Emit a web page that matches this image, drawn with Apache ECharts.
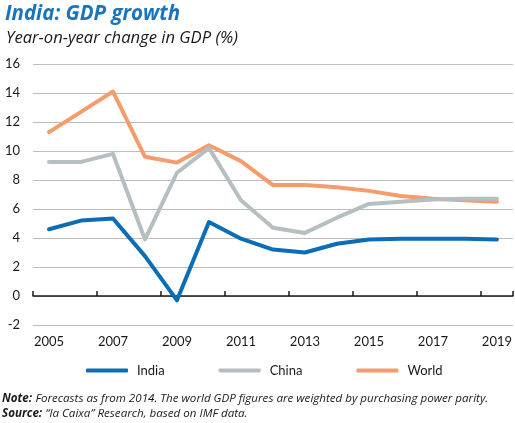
<!DOCTYPE html>
<html>
<head>
<meta charset="utf-8">
<script src="https://cdn.jsdelivr.net/npm/echarts@6/dist/echarts.min.js"></script>
<style>html,body{margin:0;padding:0;background:#fff}#c{width:515px;height:423px}</style>
</head>
<body>
<div id="c"></div>
<script>
var years = ['2005','2006','2007','2008','2009','2010','2011','2012','2013','2014','2015','2016','2017','2018','2019'];
var india = [4.6, 5.2, 5.35, 2.75, -0.3, 5.1, 3.95, 3.2, 3.0, 3.6, 3.9, 3.95, 3.95, 3.95, 3.9];
var china = [9.25, 9.25, 9.8, 3.9, 8.5, 10.2, 6.6, 4.7, 4.35, 5.4, 6.35, 6.5, 6.65, 6.7, 6.7];
var world = [11.3, 12.7, 14.1, 9.6, 9.2, 10.4, 9.3, 7.65, 7.65, 7.5, 7.25, 6.9, 6.7, 6.6, 6.5];
var yTicks = { min: -2, max: 16, interval: 2 };
var seriesNames = ['India', 'China', 'World'];
var colors = ['#0b6db6', '#b5bfc1', '#f49c6b'];

var FONT = 'Lato';
var TFONT = 'Open Sans';
var chart = echarts.init(document.getElementById('c'), null, { renderer: 'canvas' });
chart.setOption({
  animation: false,
  textStyle: { fontFamily: FONT },
  title: [
    { text: 'India: GDP growth', left: 0, top: -1,
      textStyle: { fontFamily: TFONT, fontSize: 20.5, fontWeight: 'bold', fontStyle: 'italic', color: '#1b75bc' } },
    { text: 'Year-on-year change in GDP (%)', left: 1, top: 25,
      textStyle: { fontFamily: TFONT, fontSize: 16.6, fontWeight: 'normal', fontStyle: 'italic', color: '#1a1a1a' } }
  ],
  graphic: [
    { type: 'text', left: 2, top: 393,
      style: { rich: {
        b: { fontFamily: TFONT, fontSize: 11.6, fontWeight: 'bold', fontStyle: 'italic', fill: '#1a1a1a' },
        n: { fontFamily: TFONT, fontSize: 11.6, fontStyle: 'italic', fill: '#1a1a1a' } },
        text: '{b|Note:} {n|Forecasts as from 2014. The world GDP figures are weighted by purchasing power parity.}' } },
    { type: 'text', left: 2, top: 408,
      style: { rich: {
        b: { fontFamily: TFONT, fontSize: 11.6, fontWeight: 'bold', fontStyle: 'italic', fill: '#1a1a1a' },
        n: { fontFamily: TFONT, fontSize: 11.6, fontStyle: 'italic', fill: '#1a1a1a' } },
        text: '{b|Source:} {n|\u201cla Caixa\u201d Research, based on IMF data.}' } }
  ],
  legend: {
    data: seriesNames, top: 359, left: 81,
    icon: 'roundRect', itemWidth: 42, itemHeight: 4, itemGap: 54,
    textStyle: { fontFamily: FONT, fontSize: 13, color: '#1a1a1a', padding: [0, 0, 0, 4] }
  },
  grid: { left: 33, right: 2, top: 64, bottom: 98, containLabel: false },
  xAxis: [
    { type: 'category', data: years, boundaryGap: true, position: 'bottom',
      axisLine: { show: false, onZero: false }, axisTick: { show: false },
      axisLabel: { interval: 1, color: '#1a1a1a', fontSize: 13, margin: 10, fontFamily: FONT } },
    { type: 'category', data: years, boundaryGap: true, position: 'top',
      axisLine: { show: true, onZero: true, lineStyle: { color: '#1a1a1a', width: 1.5 } },
      axisTick: { show: true, interval: 1, length: 5, lineStyle: { color: '#1a1a1a', width: 1.5 } },
      axisLabel: { show: false } }
  ],
  yAxis: {
    type: 'value', min: yTicks.min, max: yTicks.max, interval: yTicks.interval,
    axisLine: { show: false }, axisTick: { show: false },
    axisLabel: { color: '#1a1a1a', fontSize: 13, margin: 13, fontFamily: FONT },
    splitLine: { lineStyle: { color: '#bcbcbc', width: 1 } }
  },
  series: seriesNames.map(function (n, i) {
    return { name: n, type: 'line', data: [india, china, world][i], xAxisIndex: 0,
      symbol: 'none', lineStyle: { width: 4, color: colors[i], cap: 'round', join: 'round' },
      itemStyle: { color: colors[i] }, z: 3 - i };
  })
});
</script>
</body>
</html>
